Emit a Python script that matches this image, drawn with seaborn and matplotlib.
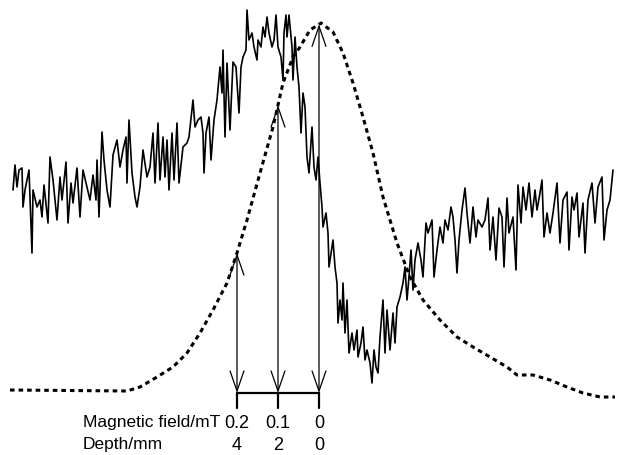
import numpy as np
import pandas as pd
import seaborn as sns
from matplotlib import pyplot as plt

# recorded ESR trace (sweep channel, signal in arbitrary units)
trace_channel = [
    13, 15, 17, 19, 22, 23, 25, 29, 32, 33, 37, 40, 42, 44, 48, 50, 53, 57, 60, 62,
    66, 68, 71, 73, 77, 80, 83, 87, 90, 93, 96, 97, 99, 102, 104, 107, 110, 113, 117, 120,
    123, 126, 127, 129, 132, 135, 137, 140, 143, 147, 150, 153, 155, 158,
    160, 163, 165, 167, 169, 172, 174, 177, 179, 183, 187, 189, 193, 195, 198, 201,
    203, 204, 206, 209, 211, 214, 217, 220, 222, 223, 225, 227, 230, 233, 236, 239,
    241, 243, 246, 247, 249, 252, 254, 257, 258, 261, 263, 265, 267, 269, 272, 274,
    276, 278, 281, 283, 284, 286, 287, 289, 292, 293, 295, 297, 299, 301, 303, 305,
    307, 309,
    312, 314, 316, 318, 320, 322, 323, 326, 328, 329, 332, 333, 335, 337, 338, 340,
    342, 343, 345, 347, 349, 352, 354, 357, 358, 361, 363, 365, 367, 370, 372, 374,
    376, 378, 380, 383, 385, 387, 390, 393, 395, 397,
    400, 403, 405, 407, 409, 411, 413, 415, 418, 421, 423,
    426, 428, 432, 434, 437, 440, 443, 445, 448, 451, 453, 455, 457, 459, 462, 465,
    467, 470, 473, 476, 478, 482, 485, 488, 490, 493, 496, 499, 502, 504, 507, 509,
    513, 516, 518, 521, 523, 526, 529, 532, 535, 537, 540, 542, 544, 547, 550, 553,
    557, 560, 563, 567, 569, 572, 574, 577, 579, 583, 585, 588, 592, 595, 598, 602,
    604, 607, 610, 613,
]
trace_signal = [
    265, 290, 268, 285, 287, 248, 265, 285, 202, 265, 248, 255, 238, 270, 232, 298, 275, 235, 278, 255,
    293, 232, 272, 252, 287, 238, 285, 268, 255, 280, 255, 295, 238, 323, 295, 265, 248, 300, 315, 288,
    305, 318, 272, 335, 282, 258, 248, 268, 305, 278, 288, 322, 272, 332,
    275, 318, 278, 315, 265, 322, 275, 332, 272, 308, 312, 318, 355, 328, 335, 338,
    322, 282, 322, 338, 295, 335, 355, 388, 362, 405, 318, 392, 325, 393, 388, 342,
    388, 398, 405, 445, 415, 422, 408, 395, 415, 408, 428, 418, 438, 422, 408, 415,
    440, 408, 398, 375, 422, 440, 418, 440, 408, 375, 418, 388, 368, 322, 362, 348,
    298, 282,
    328, 288, 275, 298, 272, 248, 228, 242, 222, 188, 208, 215, 188, 172, 132, 155,
    135, 172, 122, 155, 102, 122, 105, 125, 98, 112, 128, 95, 105, 92, 72, 105,
    88, 82, 118, 155, 102, 145, 105, 142, 112, 148,
    158, 172, 188, 155, 178, 205, 165, 195, 212, 195, 178,
    232, 222, 235, 178, 205, 228, 212, 235, 225, 248, 238, 215, 182, 215, 245, 267,
    242, 212, 248, 218, 235, 228, 235, 257, 205, 238, 195, 247, 238, 188, 257, 222,
    238, 185, 270, 232, 268, 245, 272, 238, 265, 245, 262, 275, 218, 242, 222, 242,
    272, 212, 255, 263, 205, 258, 245, 262, 218, 252, 202, 255, 272, 232, 268, 278,
    215, 245, 255, 285,
]

# depth profile (dotted curve)
profile_channel = [10, 127, 140, 157, 173, 187, 200, 213, 227, 237, 247, 260, 273, 283,
                   293, 300, 310, 321, 333, 343, 353, 363, 373, 383, 397, 410, 423, 440,
                   457, 473, 490, 507, 517, 533, 550, 567, 583, 600, 615]
profile_signal = [65, 64, 68, 78, 88, 102, 122, 145, 172, 202, 235, 282, 328, 372,
                  398, 408, 425, 432, 423, 402, 372, 338, 302, 258, 212, 178, 155, 135,
                  118, 108, 98, 88, 80, 80, 75, 68, 62, 58, 58]

# scale bar
field_ticks = [0.2, 0.1, 0.0]
field_labels = ["0.2", "0.1", "0"]
depth_labels = ["4", "2", "0"]
zero_channel = 319
channels_per_mT = 410

trace_df = pd.DataFrame({"channel": trace_channel, "signal": trace_signal})
profile_df = pd.DataFrame({"channel": profile_channel, "signal": profile_signal})

sns.set_style("white")
plt.rcParams["font.family"] = ["Liberation Sans", "DejaVu Sans"]
plt.rcParams["text.color"] = "black"

f = plt.figure(figsize=(6.17, 4.55), dpi=100)
ax = f.add_axes([0, 0, 1, 1])

sns.lineplot(ax=ax, data=trace_df, x="channel", y="signal", sort=False,
             color="black", linewidth=1.2)
sns.lineplot(ax=ax, data=profile_df, x="channel", y="signal", sort=False,
             color="black", linewidth=2.2)
ax.lines[-1].set_dashes((1.5, 1.3))
ax.lines[-1].set_dash_capstyle("butt")

tick_channels = [zero_channel - channels_per_mT * v for v in field_ticks]
bar_y = 62
for xc, fl, dl in zip(tick_channels, field_labels, depth_labels):
    tip = np.interp(xc, profile_channel, profile_signal)
    ax.annotate("", xy=(xc, tip), xytext=(xc, bar_y),
                arrowprops=dict(arrowstyle="<->, head_length=1.45, head_width=0.5",
                                lw=0.9, color="black", shrinkA=0, shrinkB=0))
    ax.plot([xc, xc], [bar_y, bar_y - 15], color="black", lw=1.6)
    ax.text(xc, 32, fl, ha="center", va="center", fontsize=13, color="black")
    ax.text(xc, 10, dl, ha="center", va="center", fontsize=13, color="black")
ax.plot([tick_channels[0], tick_channels[-1]], [bar_y, bar_y], color="black", lw=1.6)

ax.text(83, 32, "Magnetic field/mT", ha="left", va="center", fontsize=12.5, color="black")
ax.text(83, 10, "Depth/mm", ha="left", va="center", fontsize=12.5, color="black")

ax.set_xlim(0, 617)
ax.set_ylim(0, 455)
ax.set_axis_off()
f.savefig("out.png", dpi=100)
